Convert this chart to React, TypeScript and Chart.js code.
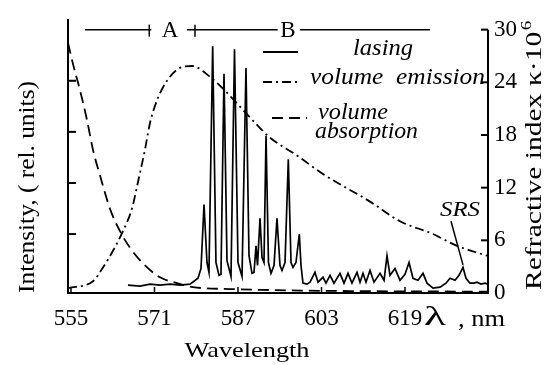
import React, { useEffect, useRef } from 'react';
import { Chart, registerables } from 'chart.js';

Chart.register(...registerables);

// ---- data (wavelength in nm, values in right-axis units) ----
const lasingNm = [565.92, 568.22, 570.14, 572.05, 573.97, 575.89, 577.8, 579.34, 579.91, 580.49, 581.06, 581.44, 582.15, 582.78, 583.36, 583.74, 584.32, 584.89, 585.66, 586.33, 587.0, 587.77, 588.53, 589.11, 589.68, 590.07, 590.45, 590.74, 591.22, 591.6, 591.98, 592.37, 592.84, 593.32, 593.9, 594.47, 595.05, 595.43, 596.01, 596.64, 597.16, 597.54, 598.11, 598.75, 599.07, 599.45, 600.22, 600.8, 601.75, 602.33, 603.29, 603.86, 604.63, 605.39, 606.54, 607.31, 608.08, 608.84, 609.8, 610.38, 610.95, 611.53, 612.29, 613.06, 614.21, 614.98, 615.55, 616.12, 617.08, 618.04, 619.0, 619.77, 620.53, 621.49, 622.45, 623.21, 624.36, 625.71, 626.85, 627.62, 628.58, 629.35, 630.11, 630.69, 631.45, 632.22, 632.79, 633.56, 634.33, 634.9];
const lasingVal = [0.9, 0.78, 1.01, 0.9, 1.01, 0.9, 1.01, 1.68, 2.8, 10.07, 3.47, 2.35, 28.1, 3.47, 2.01, 2.13, 24.96, 3.69, 1.9, 27.76, 3.47, 1.9, 25.63, 4.25, 2.24, 2.35, 5.37, 3.13, 8.51, 4.03, 3.47, 17.91, 3.47, 2.24, 3.13, 8.51, 3.13, 2.57, 3.47, 15.22, 3.47, 2.91, 3.47, 6.72, 3.13, 1.12, 1.01, 1.23, 2.35, 1.23, 1.79, 1.12, 2.01, 1.12, 2.24, 1.12, 2.24, 1.12, 2.35, 1.23, 2.24, 1.23, 2.57, 1.23, 2.24, 1.45, 4.25, 2.01, 2.8, 1.45, 2.13, 3.47, 1.68, 1.45, 2.24, 1.12, 0.56, 0.67, 1.12, 1.68, 1.45, 2.01, 2.91, 1.68, 1.12, 1.12, 1.23, 1.01, 1.12, 1.01];

const emissionNm = [554.43, 559.22, 561.13, 563.05, 564.96, 566.69, 567.84, 569.18, 570.14, 571.48, 573.4, 575.89, 578.19, 581.63, 584.13, 586.81, 590.83, 593.13, 598.3, 603.29, 612.29, 618.04, 624.36, 628.96, 634.71];
const emissionVal = [0.56, 1.34, 2.91, 4.81, 7.05, 9.63, 12.65, 16.34, 19.37, 21.94, 24.18, 25.64, 25.86, 24.63, 23.28, 21.6, 19.03, 17.69, 15.67, 13.55, 10.41, 8.17, 6.72, 5.37, 4.25];

const absorptionNm = [554.43, 555.38, 556.73, 558.07, 559.22, 560.56, 562.47, 564.39, 566.31, 568.8, 572.05, 575.31, 578.38, 585.47, 593.13, 598.88, 608.46, 621.87, 634.9];
const absorptionVal = [28.5, 26.1, 23.1, 19.7, 16.3, 13.4, 9.6, 7.05, 5.15, 3.36, 1.79, 1.12, 0.67, 0.45, 0.34, 0.28, 0.22, 0.18, 0.15];

const xTicks = [555, 571, 587, 603, 619];
const yRightTicks = [0, 6, 12, 18, 24, 30];
const yLeftTicks = [6, 12, 18, 24];

// regions A and B (nm)
const bandALine = [557.7, 570.4];
const bandATick = 570.0;
const bandALabel = 573.97;
const bandBLine1 = [577.2, 594.6];
const bandBTick = 578.76;
const bandBLabel = 596.58;
const bandBLine2 = [598.88, 623.8];

// SRS pointer (peak -> label)
const srsPeak = [630.11, 3.2];
const srsTop = [627.81, 8.17];

const SERIF = '"Liberation Serif", "Times New Roman", Tinos, Times, serif';

function drawText(
  ctx: CanvasRenderingContext2D,
  s: string,
  x: number,
  y: number,
  font: string,
  width?: number,
  align: CanvasTextAlign = 'center',
  angle = 0
) {
  ctx.save();
  ctx.font = font;
  ctx.translate(x, y);
  if (angle) ctx.rotate(angle);
  const w = ctx.measureText(s).width;
  const sx = width ? width / w : 1;
  ctx.scale(sx, 1);
  ctx.textAlign = align;
  ctx.textBaseline = 'middle';
  ctx.fillStyle = '#000';
  ctx.fillText(s, 0, 0);
  ctx.restore();
}

function line(ctx: CanvasRenderingContext2D, x1: number, y1: number, x2: number, y2: number, w = 2, dash: number[] = []) {
  ctx.save();
  ctx.strokeStyle = '#000';
  ctx.lineWidth = w;
  ctx.setLineDash(dash);
  ctx.beginPath();
  ctx.moveTo(x1, y1);
  ctx.lineTo(x2, y2);
  ctx.stroke();
  ctx.restore();
}

const decorPlugin = {
  id: 'decor',
  afterDraw(chart: any) {
    const ctx: CanvasRenderingContext2D = chart.ctx;
    const { left, right, bottom } = chart.chartArea;
    const xs = chart.scales.x;
    const yR = chart.scales.y;
    const yL = chart.scales.yL;

    // right axis line + inward ticks
    const yTop = yR.getPixelForValue(30);
    line(ctx, right, yTop, right, bottom + 1, 2);
    yRightTicks.forEach((v) => {
      if (v === 0) return;
      const py = yR.getPixelForValue(v);
      line(ctx, right, py, right - 7, py, 2);
    });
    // left inward ticks
    yLeftTicks.forEach((v) => {
      const py = yL.getPixelForValue(v);
      line(ctx, left, py, left + 8, py, 2);
    });
    // x inward ticks
    xTicks.forEach((v) => {
      const px = xs.getPixelForValue(v);
      line(ctx, px, bottom, px, bottom - 6, 1.5);
    });

    // bands A / B
    const by = yTop;
    line(ctx, xs.getPixelForValue(bandALine[0]), by, xs.getPixelForValue(bandALine[1]), by, 1.5);
    const ta = xs.getPixelForValue(bandATick);
    line(ctx, ta, by - 5, ta, by + 7, 1.5);
    drawText(ctx, 'A', xs.getPixelForValue(bandALabel), by + 1, `23px ${SERIF}`);
    line(ctx, xs.getPixelForValue(bandBLine1[0]), by, xs.getPixelForValue(bandBLine1[1]), by, 1.5);
    const tb = xs.getPixelForValue(bandBTick);
    line(ctx, tb, by - 5, tb, by + 7, 1.5);
    drawText(ctx, 'B', xs.getPixelForValue(bandBLabel), by + 1, `23px ${SERIF}`);
    line(ctx, xs.getPixelForValue(bandBLine2[0]), by, xs.getPixelForValue(bandBLine2[1]), by, 1.5);

    // legend
    line(ctx, 263, 52, 298, 52, 2.2);
    drawText(ctx, 'lasing', 353, 49, `italic 23px ${SERIF}`, 60, 'left');
    line(ctx, 263, 82, 298, 82, 2, [9, 4, 2, 4]);
    drawText(ctx, 'volume  emission', 310, 78, `italic 23px ${SERIF}`, 175, 'left');
    line(ctx, 272, 118, 307, 118, 2, [11, 6]);
    drawText(ctx, 'volume', 318, 113, `italic 23px ${SERIF}`, 70, 'left');
    drawText(ctx, 'absorption', 315, 132, `italic 23px ${SERIF}`, 103, 'left');

    // SRS
    const p1x = xs.getPixelForValue(srsPeak[0]);
    const p1y = yR.getPixelForValue(srsPeak[1]);
    const p2x = xs.getPixelForValue(srsTop[0]);
    const p2y = yR.getPixelForValue(srsTop[1]);
    line(ctx, p1x, p1y, p2x, p2y, 1.5);
    drawText(ctx, 'SRS', p2x + 9, p2y - 11, `italic 22px ${SERIF}`, 40);

    // axis titles
    drawText(ctx, 'Intensity, ( rel. units)', 28, 187, `23px ${SERIF}`, 212, 'center', -Math.PI / 2);
    // right title with superscript
    ctx.save();
    ctx.translate(535, 156);
    ctx.rotate(-Math.PI / 2);
    ctx.fillStyle = '#000';
    ctx.textBaseline = 'middle';
    ctx.textAlign = 'left';
    const main = 'Refractive index \u03BA\u00B710';
    ctx.font = `23px ${SERIF}`;
    const w1 = ctx.measureText(main).width;
    ctx.font = `15px ${SERIF}`;
    const w2 = ctx.measureText('6').width;
    const total = 268;
    const sx = total / (w1 + w2);
    ctx.scale(sx, 1);
    const start = -(w1 + w2) / 2;
    ctx.font = `23px ${SERIF}`;
    ctx.fillText(main, start, 0);
    ctx.font = `15px ${SERIF}`;
    ctx.fillText('6', start + w1 + 1, -8);
    ctx.restore();

    drawText(ctx, 'Wavelength', 247, 351, `22px ${SERIF}`, 125);
    drawText(ctx, '\u03BB', 435, 318, `28px ${SERIF}`, 22);
    drawText(ctx, ', nm', 458, 320, `23px ${SERIF}`, 47, 'left');
  },
};

export default function App() {
  const ref = useRef<HTMLCanvasElement | null>(null);

  useEffect(() => {
    if (!ref.current) return;
    let chart: Chart | null = null;
    let cancelled = false;
    const pts = (xs: number[], ys: number[]) => xs.map((x, i) => ({ x, y: ys[i] }));
    const build = () => {
      if (cancelled || !ref.current) return;
      chart = new Chart(ref.current, {
        type: 'line',
        data: {
          datasets: [
            {
              label: 'lasing',
              data: pts(lasingNm, lasingVal),
              borderColor: '#000',
              borderWidth: 1.7,
              pointRadius: 0,
              tension: 0,
              yAxisID: 'y',
            },
            {
              label: 'volume emission',
              data: pts(emissionNm, emissionVal),
              borderColor: '#000',
              borderWidth: 1.8,
              borderDash: [9, 4, 2, 4],
              pointRadius: 0,
              cubicInterpolationMode: 'monotone',
              yAxisID: 'y',
            },
            {
              label: 'volume absorption',
              data: pts(absorptionNm, absorptionVal),
              borderColor: '#000',
              borderWidth: 1.8,
              borderDash: [11, 6],
              pointRadius: 0,
              cubicInterpolationMode: 'monotone',
              yAxisID: 'y',
            },
          ],
        },
        options: {
          animation: false,
          responsive: true,
          maintainAspectRatio: false,
          layout: { padding: { top: 15, left: 0, right: 0, bottom: 0 } },
          plugins: { legend: { display: false }, tooltip: { enabled: false } },
          scales: {
            x: {
              type: 'linear',
              min: 554.43,
              max: 634.9,
              grid: { display: false, drawTicks: false },
              border: { display: true, color: '#000', width: 2 },
              ticks: {
                autoSkip: false,
                maxRotation: 0,
                padding: 12,
                color: '#000',
                font: { family: SERIF, size: 23 },
              },
              afterBuildTicks: (scale: any) => {
                scale.ticks = xTicks.map((v) => ({ value: v }));
              },
              afterFit: (scale: any) => {
                scale.height = 72;
              },
            },
            yL: {
              type: 'linear',
              position: 'left',
              min: -0.92,
              max: 31.16,
              grid: { display: false, drawTicks: false },
              border: { display: true, color: '#000', width: 2 },
              ticks: { display: false },
              afterBuildTicks: (scale: any) => {
                scale.ticks = yLeftTicks.map((v) => ({ value: v }));
              },
              afterFit: (scale: any) => {
                scale.width = 68;
              },
            },
            y: {
              type: 'linear',
              position: 'right',
              min: 0,
              max: 31.12,
              grid: { display: false, drawTicks: false },
              border: { display: false },
              ticks: {
                padding: 6,
                color: '#000',
                font: { family: SERIF, size: 23 },
              },
              afterBuildTicks: (scale: any) => {
                scale.ticks = yRightTicks.map((v) => ({ value: v }));
              },
              afterFit: (scale: any) => {
                scale.width = 65;
              },
            },
          },
        } as any,
        plugins: [decorPlugin],
      });
    };
    const fonts: any = (document as any).fonts;
    if (fonts && fonts.load) {
      Promise.all([
        fonts.load('23px "Liberation Serif"'),
        fonts.load('italic 23px "Liberation Serif"'),
      ]).then(build, build);
    } else {
      build();
    }
    return () => {
      cancelled = true;
      if (chart) chart.destroy();
    };
  }, []);

  return (
    <div style={{ position: 'fixed', left: 0, top: 0, width: 553, height: 365, background: '#fff' }}>
      <canvas ref={ref} />
    </div>
  );
}
